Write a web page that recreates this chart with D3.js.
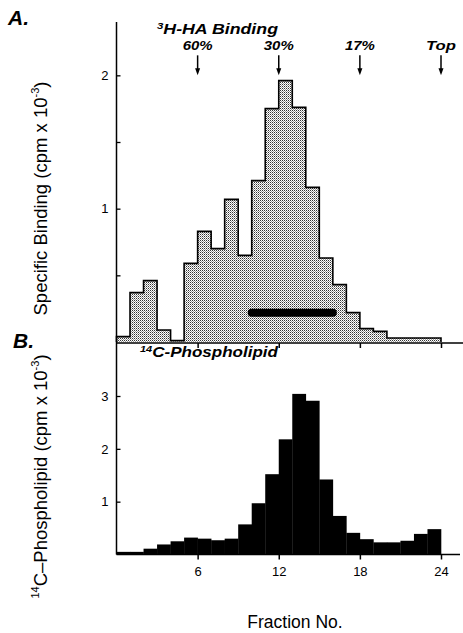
<!DOCTYPE html>
<html>
<head>
<meta charset="utf-8">
<script src="https://cdn.jsdelivr.net/npm/d3@7"></script>
<style>
  html, body { margin: 0; padding: 0; background: #fff; }
  svg { display: block; }
  text { font-family: "Liberation Sans", Arial, sans-serif; fill: #000; }
</style>
</head>
<body>
<script>
// ---- data ----
const fractions = d3.range(1, 25);
const bindingValues = [0.04, 0.37, 0.46, 0.09, 0.01, 0.59, 0.83, 0.70, 1.07, 0.65, 1.21, 1.75,
                       1.96, 1.76, 1.16, 0.63, 0.43, 0.22, 0.10, 0.08, 0.03, 0.03, 0.03, 0.03];
const phospholipidValues = [0.05, 0.05, 0.11, 0.19, 0.25, 0.32, 0.30, 0.27, 0.30, 0.57, 0.97, 1.52,
                            2.18, 3.04, 2.91, 1.42, 0.73, 0.41, 0.29, 0.23, 0.23, 0.26, 0.39, 0.48];
const markerFractions = [6, 12, 18, 24];
const markerLabels = ["60%", "30%", "17%", "Top"];
const xTickValues = [6, 12, 18, 24];
const yTicksA = [0.5, 1, 1.5, 2];
const yTicksB = [1, 2, 3];
const poolRange = [10, 16];
const poolLevel = [0.22];

// ---- layout ----
const W = 463, H = 633;
const svg = d3.select("body").append("svg").attr("width", W).attr("height", H);

const defs = svg.append("defs");
const pat = defs.append("pattern").attr("id", "stipple")
  .attr("patternUnits", "userSpaceOnUse").attr("width", 2).attr("height", 2);
pat.append("rect").attr("width", 2).attr("height", 2).attr("fill", "#fff");
pat.append("rect").attr("x", 0).attr("y", 0).attr("width", 1).attr("height", 1).attr("fill", "#333");
pat.append("rect").attr("x", 1).attr("y", 1).attr("width", 1).attr("height", 1).attr("fill", "#999");

const x = d3.scaleLinear().domain([0, 24]).range([116.5, 441]);
const yA = d3.scaleLinear().domain([0, 2.4]).range([342, 22]);
const yB = d3.scaleLinear().domain([0, 3]).range([554.5, 396]);

// ---- Panel A: stepped stippled histogram ----
const stepPts = [[0, 0]].concat(fractions.map((f, i) => [f - 1, bindingValues[i]]))
  .concat([[24, bindingValues[23]], [24, 0]]);

svg.append("path")
  .datum(stepPts)
  .attr("fill", "url(#stipple)")
  .attr("d", d3.area().curve(d3.curveStepAfter).x(d => x(d[0])).y0(yA(0)).y1(d => yA(d[1])));

svg.append("path")
  .datum(stepPts)
  .attr("fill", "none").attr("stroke", "#000").attr("stroke-width", 1.6)
  .attr("d", d3.line().curve(d3.curveStepAfter).x(d => x(d[0])).y(d => yA(d[1])));

// black bar
svg.append("line")
  .attr("x1", x(poolRange[0])).attr("x2", x(poolRange[1]))
  .attr("y1", yA(poolLevel[0])).attr("y2", yA(poolLevel[0]))
  .attr("stroke", "#000").attr("stroke-width", 8).attr("stroke-linecap", "round");

// Panel A axes
const axA = svg.append("g").attr("transform", `translate(${x(0)},0)`)
  .call(d3.axisLeft(yA).tickValues(yTicksA).tickSize(-4).tickPadding(8)
    .tickFormat(d => Number.isInteger(d) ? d : ""));
axA.select(".domain").remove();
axA.selectAll("line").attr("stroke-width", 1.3);
axA.selectAll("text").attr("font-size", 13).attr("font-family", "Liberation Sans");

const axAx = svg.append("g").attr("transform", `translate(0,${yA(0) + 1})`)
  .call(d3.axisBottom(x).tickValues(xTickValues).tickSize(5).tickFormat(""));
axAx.select(".domain").remove();
axAx.selectAll("line").attr("stroke-width", 1.5);
svg.append("line").attr("x1", x(0)).attr("x2", W).attr("y1", yA(0) + 1).attr("y2", yA(0) + 1)
  .attr("stroke", "#000").attr("stroke-width", 1.5);

// ---- Panel B: black bars ----
svg.append("g").selectAll("rect").data(fractions).join("rect")
  .attr("x", f => x(f - 1)).attr("width", f => x(f) - x(f - 1) + 0.3)
  .attr("y", (f, i) => yB(phospholipidValues[i]))
  .attr("height", (f, i) => yB(0) - yB(phospholipidValues[i]))
  .attr("fill", "#000");

const axB = svg.append("g").attr("transform", `translate(${x(0)},0)`)
  .call(d3.axisLeft(yB).tickValues(yTicksB).tickSize(-4).tickPadding(8).tickFormat(d3.format("d")));
axB.select(".domain").remove();
axB.selectAll("line").attr("stroke-width", 1.3);
axB.selectAll("text").attr("font-size", 13).attr("font-family", "Liberation Sans");

const axBx = svg.append("g").attr("transform", `translate(0,${yB(0)})`)
  .call(d3.axisBottom(x).tickValues(xTickValues).tickSize(5).tickPadding(7).tickFormat(d3.format("d")));
axBx.select(".domain").remove();
axBx.selectAll("line").attr("stroke-width", 1.5);
axBx.selectAll("text").attr("font-size", 13).attr("font-family", "Liberation Sans");
svg.append("line").attr("x1", x(0)).attr("x2", 460).attr("y1", yB(0)).attr("y2", yB(0))
  .attr("stroke", "#000").attr("stroke-width", 1.5);

// continuous vertical axis
svg.append("line").attr("x1", x(0)).attr("x2", x(0)).attr("y1", yA.range()[1]).attr("y2", yB(0))
  .attr("stroke", "#000").attr("stroke-width", 1.5);

// ---- markers (arrows) ----
const mk = svg.append("g").selectAll("g").data(markerFractions).join("g")
  .attr("transform", f => `translate(${x(f)},${yA(2)})`);
mk.append("line").attr("x1", 0).attr("x2", 0).attr("y1", -20).attr("y2", -5)
  .attr("stroke", "#000").attr("stroke-width", 1.5);
mk.append("path").attr("d", "M-2.5,-7L2.5,-7L0,0Z").attr("fill", "#000");
mk.append("text").attr("y", -25).attr("text-anchor", "middle")
  .attr("font-size", 12).attr("font-weight", "bold").attr("font-style", "italic")
  .attr("textLength", 30).attr("lengthAdjust", "spacingAndGlyphs")
  .text((f, i) => markerLabels[i]);

// ---- titles ----
function boldItal(t) { return t.attr("font-weight", "bold").attr("font-style", "italic"); }

boldItal(svg.append("text").attr("x", 8).attr("y", 25).attr("font-size", 21)).text("A.");
boldItal(svg.append("text").attr("x", 13).attr("y", 348).attr("font-size", 21)).text("B.");

const tA = boldItal(svg.append("text").attr("x", 157).attr("y", 33.5).attr("font-size", 14)
  .attr("textLength", 121).attr("lengthAdjust", "spacingAndGlyphs"));
tA.append("tspan").attr("font-size", 9).attr("dy", -5).text("3");
tA.append("tspan").attr("dy", 5).text("H-HA Binding");

const tB = boldItal(svg.append("text").attr("x", 140).attr("y", 357).attr("font-size", 14)
  .attr("textLength", 138).attr("lengthAdjust", "spacingAndGlyphs"));
tB.append("tspan").attr("font-size", 9).attr("dy", -5).text("14");
tB.append("tspan").attr("dy", 5).text("C-Phospholipid");

// y-axis titles
const yTA = svg.append("text").attr("transform", "translate(47,198.5) rotate(-90)")
  .attr("text-anchor", "middle").attr("font-size", 18.5);
yTA.append("tspan").text("Specific Binding (cpm x 10");
yTA.append("tspan").attr("font-size", 11).attr("dy", -8).text("-3");
yTA.append("tspan").attr("dy", 8).text(")");

const yTB = svg.append("text").attr("transform", "translate(47,476.5) rotate(-90)")
  .attr("text-anchor", "middle").attr("font-size", 18.5);
yTB.append("tspan").attr("font-size", 11).attr("dy", -8).text("14");
yTB.append("tspan").attr("dy", 8).text("C\u2013Phospholipid (cpm x 10");
yTB.append("tspan").attr("font-size", 11).attr("dy", -8).text("-3");
yTB.append("tspan").attr("dy", 8).text(")");

svg.append("text").attr("x", 295).attr("y", 628).attr("text-anchor", "middle")
  .attr("font-size", 17.5).text("Fraction No.");
</script>
</body>
</html>
